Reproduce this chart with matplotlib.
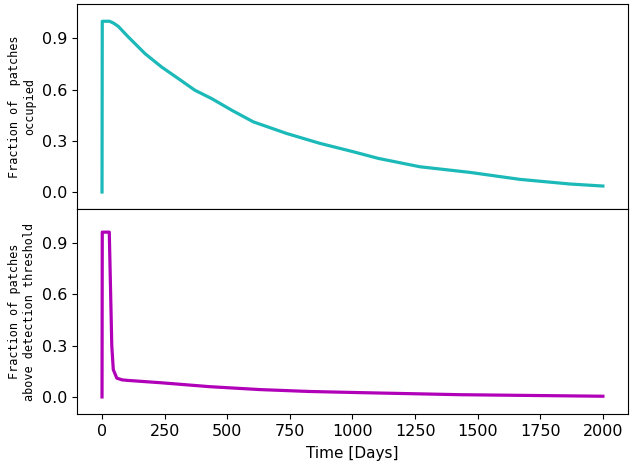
import numpy as np
import matplotlib
matplotlib.use('Agg')
import matplotlib.pyplot as plt

# values
occ_time = [0, 1, 30, 45, 65, 105, 172, 238, 305, 371, 438, 518, 604, 737,
            870, 1003, 1103, 1269, 1469, 1669, 1868, 2000]
occ_frac = [0.0, 1.0, 1.0, 0.99, 0.97, 0.908, 0.81, 0.732, 0.664, 0.596,
            0.547, 0.479, 0.411, 0.343, 0.285, 0.236, 0.197, 0.148, 0.115,
            0.074, 0.047, 0.035]

det_time = [0, 1, 29, 39, 45, 59, 80, 100, 235, 430, 630, 825, 1035,
            1430, 2000]
det_frac = [0.0, 0.965, 0.965, 0.30, 0.16, 0.11, 0.10, 0.097, 0.083, 0.060,
            0.043, 0.032, 0.025, 0.013, 0.004]

yticks = [0.0, 0.3, 0.6, 0.9]
xticks = [0, 250, 500, 750, 1000, 1250, 1500, 1750, 2000]


def main():
    fig, (ax1, ax2) = plt.subplots(nrows=2, sharex=True, figsize=(6.33, 4.66), dpi=100)
    plt.subplots_adjust(left=0.1216, right=0.992, top=0.991, bottom=0.1116, hspace=0)

    ax1.plot(occ_time, occ_frac, color='#1cb9b9', linewidth=2.3)
    ax2.plot(det_time, det_frac, color='#b000b8', linewidth=2.3)

    for ax in (ax1, ax2):
        ax.set_ylim(-0.1, 1.1)
        ax.set_yticks(yticks)
        ax.set_yticklabels(['0.0', '0.3', '0.6', '0.9'])
        ax.tick_params(labelsize=11.5)

    ax2.set_xlim(-100, 2100)
    ax2.set_xticks(xticks)
    ax2.set_xlabel('Time [Days]', fontsize=11, labelpad=5)

    ax1.set_ylabel('Fraction of  patches\noccupied', family='DejaVu Sans Mono', fontsize=8.5)
    ax2.set_ylabel('Fraction of patches\nabove detection threshold', family='DejaVu Sans Mono', fontsize=8.5)

    fig.savefig('out.png', dpi=100)
    plt.close(fig)


if __name__ == '__main__':
    main()
